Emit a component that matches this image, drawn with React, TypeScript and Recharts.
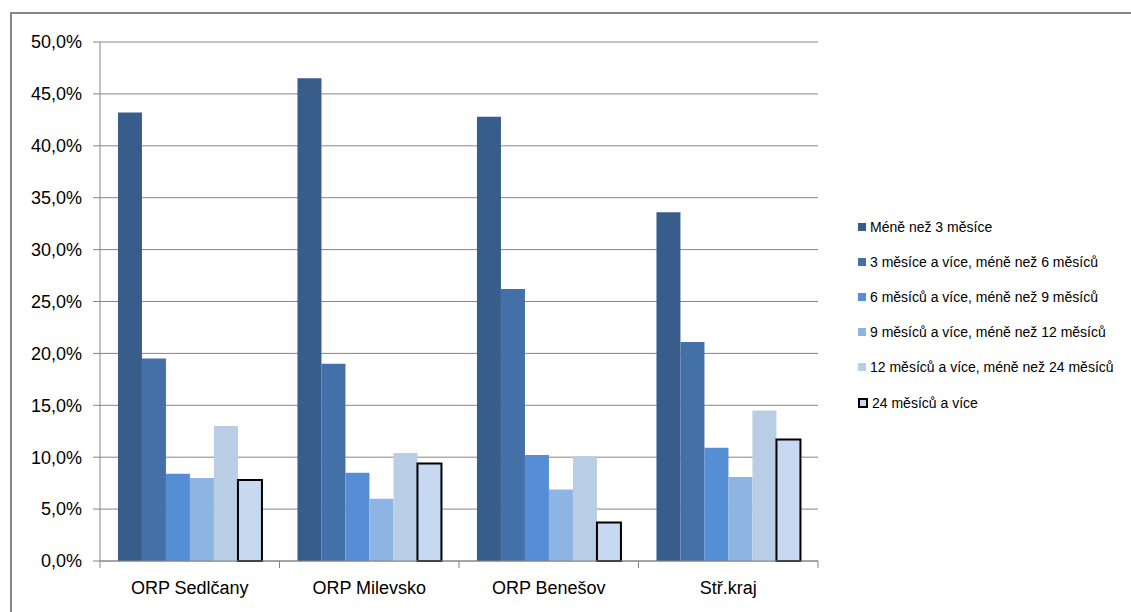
import React from "react";
import { BarChart, Bar, XAxis, YAxis, CartesianGrid } from "recharts";

const categories = ["ORP Sedlčany", "ORP Milevsko", "ORP Benešov", "Stř.kraj"];
const seriesNames = [
  "Méně než 3 měsíce",
  "3 měsíce a více, méně než 6 měsíců",
  "6 měsíců a více, méně než 9 měsíců",
  "9 měsíců a více, méně než 12 měsíců",
  "12 měsíců a více, méně než 24 měsíců",
  "24 měsíců a více",
];
const s1 = [43.2, 46.5, 42.8, 33.6];
const s2 = [19.5, 19.0, 26.2, 21.1];
const s3 = [8.4, 8.5, 10.2, 10.9];
const s4 = [8.0, 6.0, 6.9, 8.1];
const s5 = [13.0, 10.4, 10.1, 14.5];
const s6 = [7.8, 9.4, 3.7, 11.7];
const yTicks = [0, 5, 10, 15, 20, 25, 30, 35, 40, 45, 50];

const colors = ["#385D8A", "#4470A8", "#558ED5", "#8EB4E3", "#B9CDE5", "#C6D9F1"];

const allSeries = [s1, s2, s3, s4, s5, s6];
const data = categories.map((c, i) => {
  const row: any = { name: c };
  allSeries.forEach((s, k) => {
    row["s" + k] = s[i];
  });
  return row;
});

const FONT = "'Liberation Sans', Arial, sans-serif";
const GRAY = "#868686";

const XTick = (props: any) => {
  const { x, y, payload, index } = props;
  const half = 179.5 / 2;
  return (
    <g>
      <line x1={x - half} x2={x - half} y1={y - 8} y2={y - 1} stroke={GRAY} />
      {index === categories.length - 1 && (
        <line x1={x + half} x2={x + half} y1={y - 8} y2={y - 1} stroke={GRAY} />
      )}
      <text x={x} y={y + 25} textAnchor="middle" fontSize={18} fill="#000" fontFamily={FONT}>
        {payload.value}
      </text>
    </g>
  );
};

export default function App() {
  return (
    <div
      style={{
        position: "absolute",
        left: 0,
        top: 0,
        width: 1131,
        height: 612,
        background: "#fff",
        overflow: "hidden",
      }}
    >
      <div
        style={{
          position: "absolute",
          left: 10,
          top: 12,
          width: 1200,
          height: 700,
          borderLeft: "2px solid " + GRAY,
          borderTop: "2px solid " + GRAY,
          boxSizing: "border-box",
        }}
      />
      <div style={{ position: "absolute", left: 0, top: 0 }}>
        <BarChart
          width={1131}
          height={612}
          data={data}
          margin={{ top: 42, right: 313, left: 20, bottom: 21 }}
          barGap={0}
          barCategoryGap="10%"
        >
          <CartesianGrid vertical={false} stroke={GRAY} />
          <XAxis
            dataKey="name"
            height={30}
            stroke={GRAY}
            tickLine={false}
            tick={<XTick />}
            interval={0}
          />
          <YAxis
            width={80}
            domain={[0, 50]}
            ticks={yTicks}
            stroke={GRAY}
            tickSize={7}
            tickMargin={11}
            tick={{ fill: "#000", fontSize: 18, fontFamily: FONT }}
            tickFormatter={(v: number) => v.toFixed(1).replace(".", ",") + "%"}
          />
          {seriesNames.map((n, i) => (
            <Bar
              key={n}
              dataKey={"s" + i}
              name={n}
              fill={colors[i]}
              stroke={i === 5 ? "#000" : "none"}
              strokeWidth={i === 5 ? 2 : 0}
              isAnimationActive={false}
            />
          ))}
        </BarChart>
      </div>
      <div
        style={{
          position: "absolute",
          left: 858,
          top: 209,
          fontFamily: FONT,
          fontSize: 14,
          color: "#000",
          whiteSpace: "nowrap",
        }}
      >
        {seriesNames.map((n, i) => (
          <div key={n} style={{ display: "flex", alignItems: "center", height: 35.2 }}>
            <span
              style={{
                display: "inline-block",
                width: i === 5 ? 6 : 8,
                height: i === 5 ? 6 : 8,
                background: colors[i],
                border: i === 5 ? "2px solid #000" : "none",
                marginRight: 4,
                flexShrink: 0,
              }}
            />
            <span>{n}</span>
          </div>
        ))}
      </div>
    </div>
  );
}
